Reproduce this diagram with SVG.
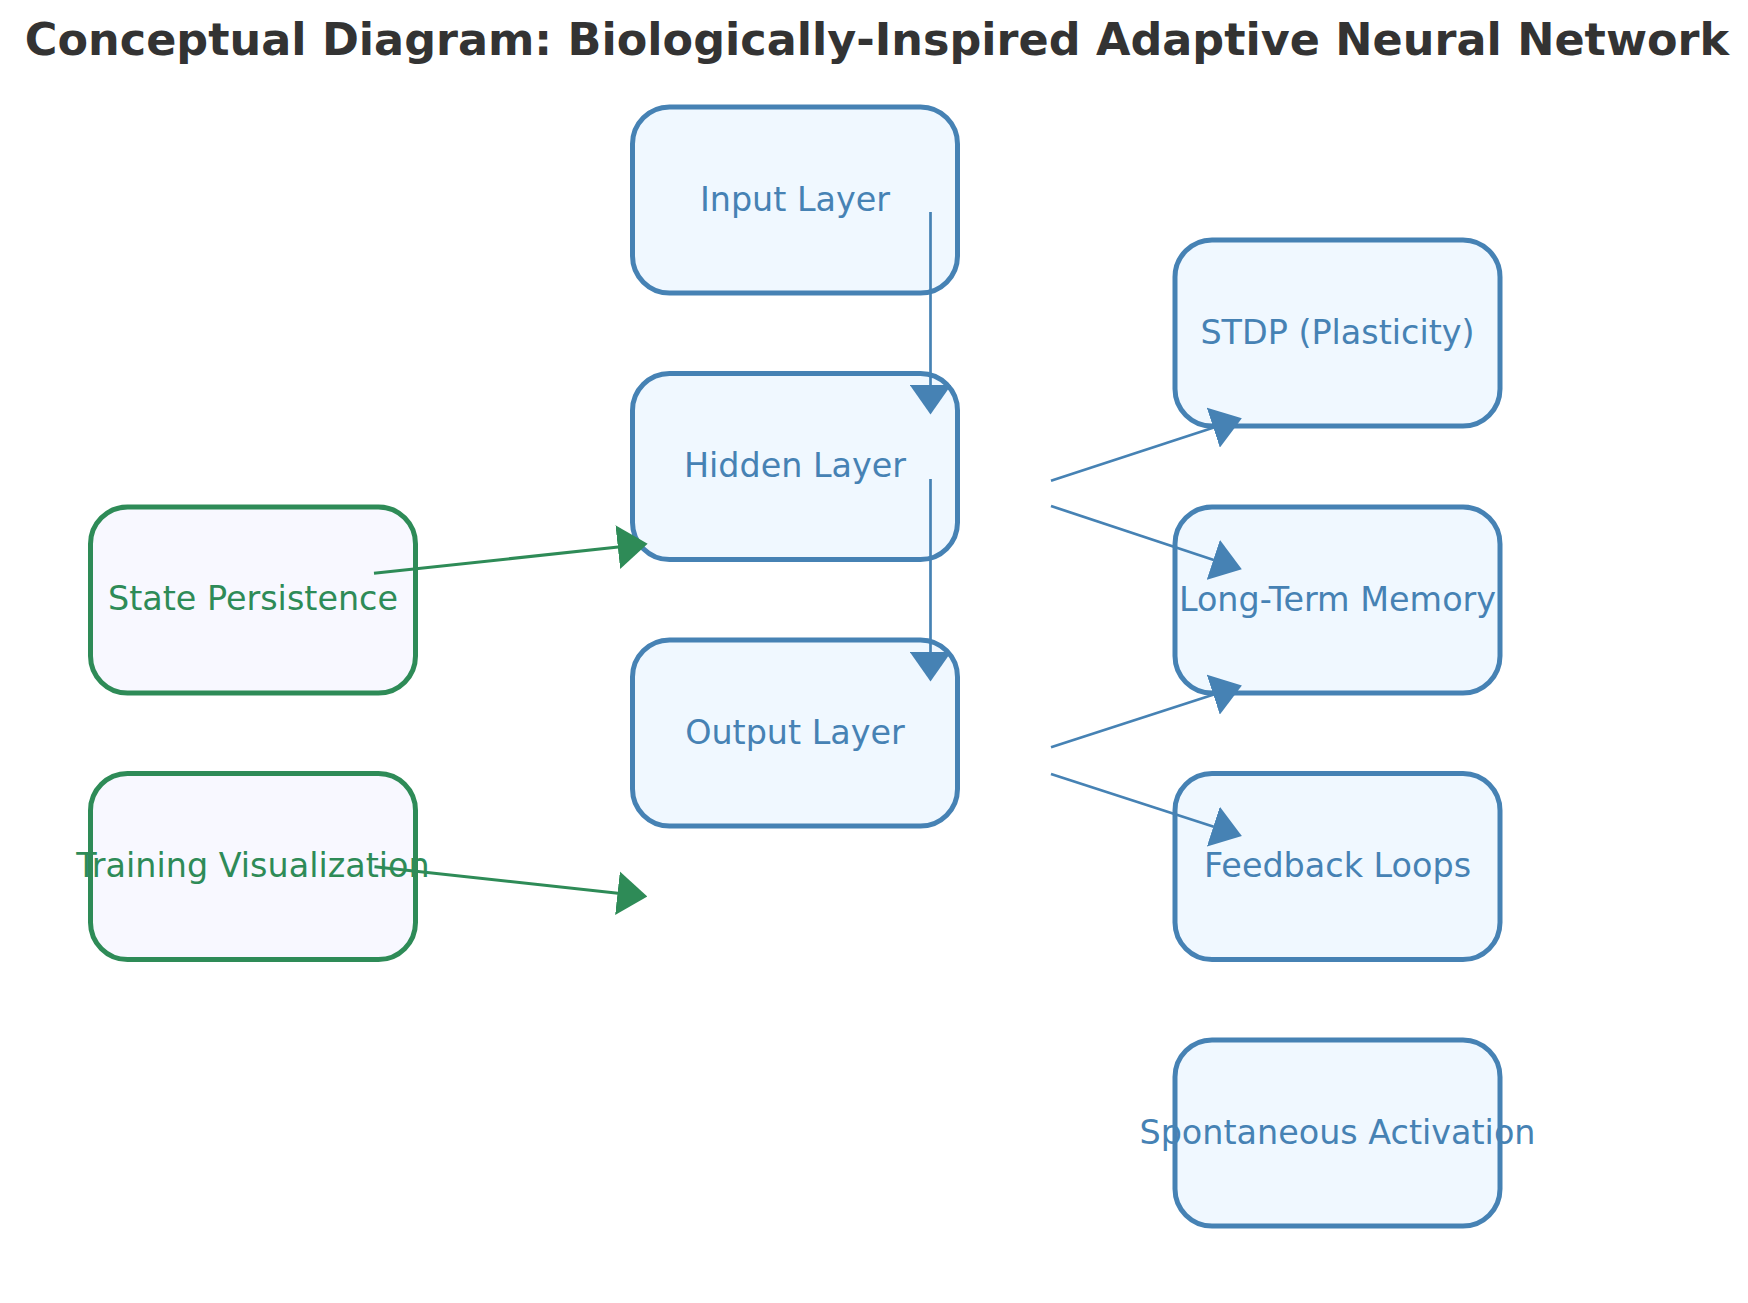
<svg xmlns="http://www.w3.org/2000/svg" width="1748" height="1303" viewBox="0 0 1748 1303">
  <style>
    .title { font-family: "DejaVu Sans", "Noto Sans", sans-serif; font-weight: bold; font-size: 44.5px; fill: #333333; }
    .box-blue { fill: #f0f8ff; stroke: #4682b4; stroke-width: 5; }
    .box-green { fill: #f8f8ff; stroke: #2e8b57; stroke-width: 5; }
    .lbl { font-family: "DejaVu Sans", "Noto Sans", sans-serif; font-size: 33.4px; text-anchor: middle; }
    .lbl-blue { fill: #4682b4; }
    .lbl-green { fill: #2e8b57; }
    .edge-blue { fill: none; stroke: #4682b4; stroke-width: 2.7; marker-end: url(#arrow-blue); }
    .edge-green { fill: none; stroke: #2e8b57; stroke-width: 3; marker-end: url(#arrow-green); }
  </style>
  <defs>
    <marker id="arrow-blue" markerUnits="userSpaceOnUse" markerWidth="30" markerHeight="42" refX="0.5" refY="21" orient="auto">
      <path d="M0,0 L30,21 L0,42 Z" fill="#4682b4"/>
    </marker>
    <marker id="arrow-green" markerUnits="userSpaceOnUse" markerWidth="30" markerHeight="44" refX="0.5" refY="22" orient="auto">
      <path d="M0,0 L30,22 L0,44 Z" fill="#2e8b57"/>
    </marker>
  </defs>
  <rect width="1748" height="1303" fill="#ffffff"/>
  <text class="title" x="877" y="54.5" text-anchor="middle">Conceptual Diagram: Biologically-Inspired Adaptive Neural Network</text>

  <g id="nodes">
    <g id="input-layer">
      <rect class="box-blue" x="632.5" y="107" width="325" height="186" rx="37" ry="37"/>
      <text class="lbl lbl-blue" x="795" y="210.5">Input Layer</text>
    </g>
    <g id="hidden-layer">
      <rect class="box-blue" x="632.5" y="373.5" width="325" height="186" rx="37" ry="37"/>
      <text class="lbl lbl-blue" x="795" y="477">Hidden Layer</text>
    </g>
    <g id="output-layer">
      <rect class="box-blue" x="632.5" y="640" width="325" height="186" rx="37" ry="37"/>
      <text class="lbl lbl-blue" x="795" y="743.5">Output Layer</text>
    </g>
    <g id="stdp">
      <rect class="box-blue" x="1175" y="240" width="325" height="186" rx="37" ry="37"/>
      <text class="lbl lbl-blue" x="1337.5" y="343.5">STDP (Plasticity)</text>
    </g>
    <g id="long-term-memory">
      <rect class="box-blue" x="1175" y="507" width="325" height="186" rx="37" ry="37"/>
      <text class="lbl lbl-blue" x="1337.5" y="610.5">Long-Term Memory</text>
    </g>
    <g id="feedback-loops">
      <rect class="box-blue" x="1175" y="773.5" width="325" height="186" rx="37" ry="37"/>
      <text class="lbl lbl-blue" x="1337.5" y="877">Feedback Loops</text>
    </g>
    <g id="spontaneous-activation">
      <rect class="box-blue" x="1175" y="1040" width="325" height="186" rx="37" ry="37"/>
      <text class="lbl lbl-blue" x="1337.5" y="1143.5">Spontaneous Activation</text>
    </g>
    <g id="state-persistence">
      <rect class="box-green" x="90.5" y="507" width="325" height="186" rx="37" ry="37"/>
      <text class="lbl lbl-green" x="253" y="610">State Persistence</text>
    </g>
    <g id="training-visualization">
      <rect class="box-green" x="90.5" y="773.5" width="325" height="186" rx="37" ry="37"/>
      <text class="lbl lbl-green" x="253" y="877">Training Visualization</text>
    </g>
  </g>

  <g id="connectors">
    <path class="edge-blue" d="M930.5,212 L930.5,385"/>
    <path class="edge-blue" d="M930.5,479 L930.5,652"/>
    <path class="edge-blue" d="M1051,480.7 L1213.8,427.5"/>
    <path class="edge-blue" d="M1051,506 L1213.8,560"/>
    <path class="edge-blue" d="M1051,747.3 L1213.8,694.5"/>
    <path class="edge-blue" d="M1051,774 L1213.8,826.8"/>
    <path class="edge-green" d="M374,573.3 L618.3,547"/>
    <path class="edge-green" d="M374.5,866.7 L618,893.3"/>
  </g>
</svg>
